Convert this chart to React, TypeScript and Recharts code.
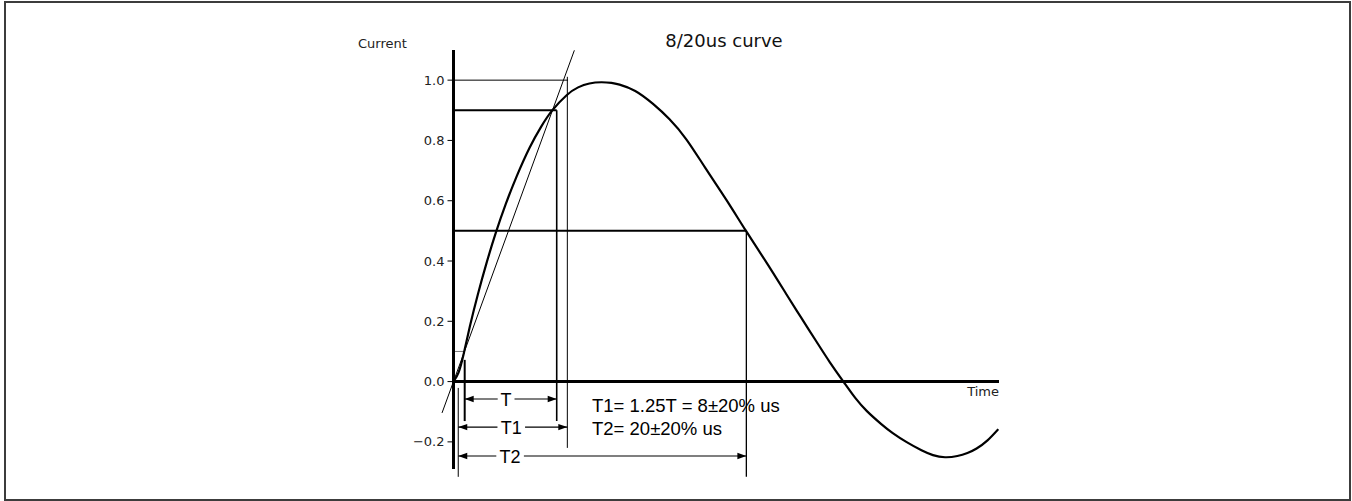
import React from 'react';
import { LineChart, Line, XAxis, YAxis, ReferenceLine, ReferenceDot } from 'recharts';

// ---- data (time in us, current normalised) ----
const timeUs = [0, 0.35, 0.7, 1.15, 1.7, 2.3, 2.95, 3.65, 4.4, 5.3, 6.1, 6.85, 7.88, 8.68, 9.47, 10.3, 11.0, 11.57, 12.66, 13.9, 15.05, 16.23, 17.54, 19.02, 20.4, 21.83, 23.2, 24.22, 25.28, 26.22, 27.22, 28.0, 28.8, 29.8, 30.6, 31.57, 32.6, 33.4, 34.24, 35.1, 35.8, 36.44, 37.2, 37.95];
const current = [0, 0.03, 0.09, 0.185, 0.29, 0.393, 0.494, 0.59, 0.681, 0.776, 0.845, 0.898, 0.95, 0.976, 0.989, 0.993, 0.991, 0.985, 0.964, 0.921, 0.87, 0.803, 0.709, 0.602, 0.498, 0.393, 0.289, 0.212, 0.133, 0.064, -0.004, -0.055, -0.098, -0.141, -0.171, -0.201, -0.228, -0.244, -0.251, -0.247, -0.237, -0.222, -0.195, -0.158];

const yTicks = [-0.2, 0, 0.2, 0.4, 0.6, 0.8, 1.0];
const xDomain = [0, 38];
const yDomain = [-0.29, 1.1];

// levels
const LEVEL_10 = 0.1;
const LEVEL_50 = 0.5;
const LEVEL_90 = 0.9;
const LEVEL_100 = 1.0;

// times of construction lines (us)
const T_10 = 0.78;      // 10% point
const T_90 = 7.19;      // 90% point
const T_100 = 7.93;     // straight line reaches 100%
const T_100_END = 7.98;
const T_O1 = 0.33;      // virtual origin
const T_HALF = 20.4;    // 50% on tail

// straight line through 10% / 90% points
const slopeLine = [
  { x: -0.8, y: -0.104 },
  { x: 8.42, y: 1.099 },
];

// ends of the vertical construction lines
const V_10_TOP = 0.072;
const V_10_BOTTOM = -0.131;
const V_90_BOTTOM = -0.131;
const V_100_TOP = 1.011;
const V_100_BOTTOM = -0.22;
const V_O1_TOP = -0.021;
const V_O1_BOTTOM = -0.316;
const V_HALF_BOTTOM = -0.316;

// dimension arrows
const arrowLabels = ['T', 'T1', 'T2'];
const arrowStart = [T_10, T_O1, T_O1];
const arrowEnd = [T_90, T_100, T_HALF];
const arrowLevel = [-0.058, -0.151, -0.247];
const arrowLabelFrac = [0.45, 0.486, 0.18];

// annotation
const noteLines = ['T1= 1.25T = 8\u00b120% us', 'T2= 20\u00b120% us'];
const noteT = 9.65;
const noteLevels = [-0.1, -0.177];

const titleText = '8/20us curve';
const yLabel = 'Current';
const xLabel = 'Time';

const data = timeUs.map((t, i) => ({ t, v: current[i] }));

const ARIAL = '"Liberation Sans", Arial, sans-serif';
const DEJAVU = '"DejaVu Sans", sans-serif';

function makeArrow(label: string, frac: number) {
  return (p: any) => {
    const x1 = Number(p.x1), y1 = Number(p.y1), x2 = Number(p.x2), y2 = Number(p.y2);
    const L = 9;
    const W = 3.2;
    const lx = x1 + (x2 - x1) * frac;
    const tw = label.length * 10.8 + 6;
    return (
      <g>
        <line x1={x1} y1={y1} x2={x2} y2={y2} stroke="#000" strokeWidth={1.1} />
        <polygon points={`${x1},${y1} ${x1 + L},${y1 - W} ${x1 + L},${y1 + W}`} fill="#000" />
        <polygon points={`${x2},${y2} ${x2 - L},${y2 - W} ${x2 - L},${y2 + W}`} fill="#000" />
        <rect x={lx - tw / 2} y={y1 - 8} width={tw} height={16} fill="#fff" />
        <text x={lx} y={y1 + 7} textAnchor="middle" fontSize={18} fontFamily={ARIAL} fill="#000">
          {label}
        </text>
      </g>
    );
  };
}

function makeText(text: string, anchor: 'start' | 'end' | 'middle', dx: number, dy: number, size: number, family: string, color: string) {
  return (p: any) => (
    <text x={Number(p.cx) + dx} y={Number(p.cy) + dy} textAnchor={anchor} fontSize={size} fontFamily={family} fill={color}>
      {text}
    </text>
  );
}

const fmt = (v: number) => (v < 0 ? '\u2212' : '') + Math.abs(v).toFixed(1);

export default function App() {
  return (
    <div style={{ position: 'absolute', left: 0, top: 0, width: 1352, height: 501, background: '#fff' }}>
      <LineChart
        width={1352}
        height={501}
        data={data}
        margin={{ top: 50, right: 353, bottom: 32, left: 393.5 }}
      >
        <XAxis type="number" dataKey="t" domain={xDomain} hide allowDataOverflow />
        <YAxis
          type="number"
          domain={yDomain}
          ticks={yTicks}
          allowDataOverflow
          width={60}
          tickSize={6}
          tickMargin={3}
          axisLine={{ stroke: '#000', strokeWidth: 3 }}
          tickLine={{ stroke: '#000', strokeWidth: 1 }}
          tick={{ fontSize: 13, fill: '#222', fontFamily: DEJAVU }}
          tickFormatter={fmt}
        />
        {/* time axis at zero */}
        <ReferenceLine y={0} stroke="#000" strokeWidth={3} />

        {/* horizontal level lines */}
        <ReferenceLine segment={[{ x: 0, y: LEVEL_100 }, { x: T_100_END, y: LEVEL_100 }]} stroke="#000" strokeWidth={1} ifOverflow="visible" />
        <ReferenceLine segment={[{ x: 0, y: LEVEL_90 }, { x: T_90, y: LEVEL_90 }]} stroke="#000" strokeWidth={2} ifOverflow="visible" />
        <ReferenceLine segment={[{ x: 0, y: LEVEL_50 }, { x: T_HALF, y: LEVEL_50 }]} stroke="#000" strokeWidth={2} ifOverflow="visible" />
        <ReferenceLine segment={[{ x: 0, y: LEVEL_10 }, { x: T_10, y: LEVEL_10 }]} stroke="#777" strokeWidth={1} ifOverflow="visible" />

        {/* vertical construction lines */}
        <ReferenceLine segment={[{ x: T_10, y: V_10_TOP }, { x: T_10, y: V_10_BOTTOM }]} stroke="#000" strokeWidth={2} ifOverflow="visible" />
        <ReferenceLine segment={[{ x: T_90, y: LEVEL_90 }, { x: T_90, y: V_90_BOTTOM }]} stroke="#000" strokeWidth={1.6} ifOverflow="visible" />
        <ReferenceLine segment={[{ x: T_100, y: V_100_TOP }, { x: T_100, y: V_100_BOTTOM }]} stroke="#000" strokeWidth={1} ifOverflow="visible" />
        <ReferenceLine segment={[{ x: T_O1, y: V_O1_TOP }, { x: T_O1, y: V_O1_BOTTOM }]} stroke="#000" strokeWidth={1} ifOverflow="visible" />
        <ReferenceLine segment={[{ x: T_HALF, y: LEVEL_50 }, { x: T_HALF, y: V_HALF_BOTTOM }]} stroke="#000" strokeWidth={1.3} ifOverflow="visible" />

        {/* straight line through 10% and 90% points */}
        <ReferenceLine segment={slopeLine} stroke="#000" strokeWidth={1} ifOverflow="visible" />

        <Line
          type="natural"
          dataKey="v"
          stroke="#000"
          strokeWidth={2.2}
          dot={false}
          activeDot={false}
          isAnimationActive={false}
        />

        {/* dimension arrows */}
        {arrowLabels.map((lab, i) => (
          <ReferenceLine
            key={lab}
            segment={[{ x: arrowStart[i], y: arrowLevel[i] }, { x: arrowEnd[i], y: arrowLevel[i] }]}
            ifOverflow="visible"
            shape={makeArrow(lab, arrowLabelFrac[i])}
          />
        ))}

        {/* annotation text */}
        {noteLines.map((txt, i) => (
          <ReferenceDot
            key={txt}
            x={noteT}
            y={noteLevels[i]}
            r={1}
            ifOverflow="visible"
            shape={makeText(txt, 'start', 0, 0, 18.5, ARIAL, '#000')}
          />
        ))}

        <ReferenceDot
          x={xDomain[1]}
          y={0}
          r={1}
          ifOverflow="visible"
          shape={makeText(xLabel, 'end', 0, 14.5, 13, DEJAVU, '#222')}
        />
      </LineChart>

      <svg width={1352} height={501} style={{ position: 'absolute', left: 0, top: 0, pointerEvents: 'none' }}>
        <text x={724} y={46.5} textAnchor="middle" fontSize={18} fontFamily={DEJAVU} fill="#111">
          {titleText}
        </text>
        <text x={358} y={48} textAnchor="start" fontSize={13} fontFamily={DEJAVU} fill="#222">
          {yLabel}
        </text>
      </svg>

      <div
        style={{
          position: 'absolute',
          left: 4,
          top: 0.5,
          width: 1347,
          height: 500,
          border: '2px solid #3c3c3c',
          boxSizing: 'border-box',
          pointerEvents: 'none',
        }}
      />
    </div>
  );
}
